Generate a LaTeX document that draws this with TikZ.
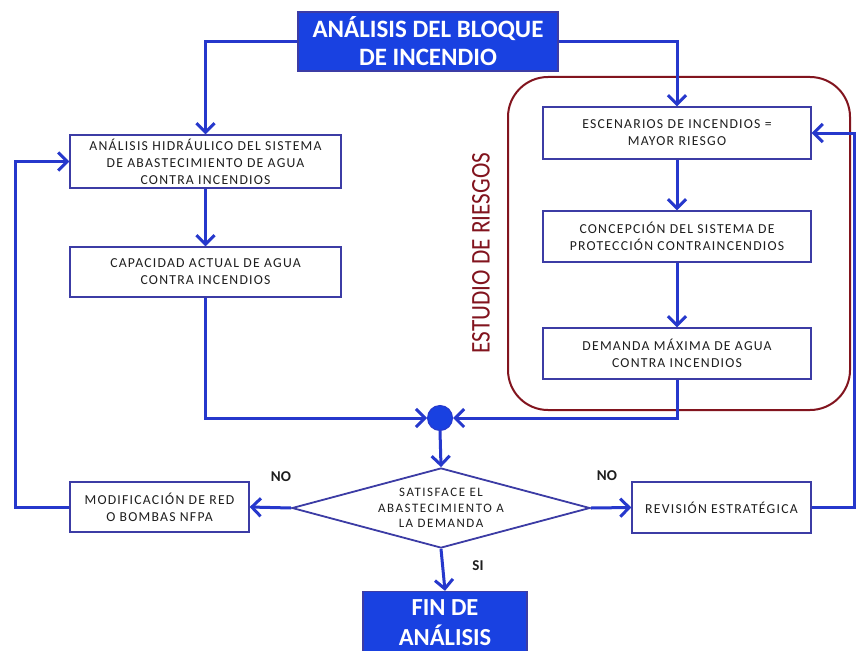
\documentclass[tikz,border=0pt]{standalone}
\usepackage{fontspec}
\setmainfont{Carlito}
\newfontfamily\boxfnt[LetterSpace=9]{Carlito}
\newfontfamily\decfnt[LetterSpace=12]{Carlito}
\usetikzlibrary{arrows.meta,shapes.geometric}
\definecolor{lineblue}{RGB}{38,56,204}
\definecolor{titleblue}{RGB}{25,65,225}
\definecolor{boxblue}{RGB}{60,60,165}
\definecolor{darkred}{RGB}{130,20,30}
\definecolor{txt}{RGB}{30,30,30}
\begin{document}
\begin{tikzpicture}[x=1pt,y=-1pt,
  flow/.style={draw=lineblue,line width=3pt,-{Straight Barb[length=9pt,width=18pt]}},
  box/.style={draw=boxblue,line width=1.3pt,fill=white,rectangle,inner sep=0pt,align=center,
    text=txt,font=\boxfnt\fontsize{13.7}{17}\selectfont},
  title/.style={draw=boxblue,line width=1.3pt,fill=titleblue,rectangle,inner sep=0pt,align=center,
    text=white,font=\bfseries\fontsize{25}{28}\selectfont},
  lbl/.style={text=txt,font=\bfseries\fontsize{15}{17}\selectfont}]
\clip (0,0) rectangle (858,650);
\fill[white] (0,0) rectangle (858,650);
% risk study frame
\draw[darkred,line width=2pt,rounded corners=40pt] (508,77) rectangle (850,410);
\node[rotate=90,text=darkred,font=\fontsize{27}{30}\selectfont] (est) at (481,253) {\scalebox{0.86}[1]{ESTUDIO DE RIESGOS}};
% nodes
\node[title,minimum width=260pt,minimum height=59pt] (tit) at (428,41.5) {ANÁLISIS DEL BLOQUE\\DE INCENDIO};
\node[box,minimum width=271pt,minimum height=53pt] (lb1) at (205.5,161.5) {ANÁLISIS HIDRÁULICO DEL SISTEMA\\DE ABASTECIMIENTO DE AGUA\\CONTRA INCENDIOS};
\node[box,minimum width=271pt,minimum height=50pt] (lb2) at (205.5,272) {CAPACIDAD ACTUAL DE AGUA\\CONTRA INCENDIOS};
\node[box,minimum width=268pt,minimum height=52pt] (rb1) at (677,133) {ESCENARIOS DE INCENDIOS =\\MAYOR RIESGO};
\node[box,minimum width=268pt,minimum height=51pt] (rb2) at (677,236.5) {CONCEPCIÓN DEL SISTEMA DE\\PROTECCIÓN CONTRAINCENDIOS};
\node[box,minimum width=268pt,minimum height=51pt] (rb3) at (677,353.5) {DEMANDA MÁXIMA DE AGUA\\CONTRA INCENDIOS};
\node[box,minimum width=179pt,minimum height=50pt] (mod) at (159.5,507) {MODIFICACIÓN DE RED\\O BOMBAS NFPA};
\node[box,minimum width=179pt,minimum height=51pt] (rev) at (721.5,507.5) {REVISIÓN ESTRATÉGICA};
\node[diamond,aspect=3.7,draw=boxblue,line width=1.8pt,fill=white,inner sep=0pt,
  minimum width=298pt,minimum height=80pt,align=center,text=txt,
  font=\decfnt\fontsize{12.9}{15.5}\selectfont] (dec) at (441,508) {SATISFACE EL\\ABASTECIMIENTO A\\LA DEMANDA};
\node[circle,fill=titleblue,draw=lineblue,line width=1pt,minimum size=25pt,inner sep=0pt] (join) at (440,418) {};
\node[title,minimum width=164pt,minimum height=62pt,text depth=0pt,font=\bfseries\fontsize{24.5}{30}\selectfont] (fin) at (445,622.5) {FIN DE\\ANÁLISIS};
% labels
\node[lbl] (no1) at (281,477) {NO};
\node[lbl] (no2) at (607,476) {NO};
\node[lbl] (si) at (478,566) {SI};
% connectors
\draw[flow] (tit.west) -| (lb1.north);
\draw[flow] (tit.east) -| (rb1.north);
\draw[flow] (lb1.south) -- (lb2.north);
\draw[flow] (rb1.south) -- (rb2.north);
\draw[flow] (rb2.south) -- (rb3.north);
\draw[flow] (lb2.south) |- (join.west);
\draw[flow] (rb3.south) |- (join.east);
\draw[flow] (join.south) -- (dec.north);
\draw[flow] (dec.west) -- (mod.east);
\draw[flow] (dec.east) -- (rev.west);
\draw[flow] (dec.south) -- (fin.north);
\coordinate (lret) at (15,161.5);
\draw[flow] (mod.west) -| (lret) -- (lb1.west);
\coordinate (rret) at (854,133);
\draw[flow] (rev.east) -| (rret) -- (rb1.east);
\end{tikzpicture}
\end{document}
